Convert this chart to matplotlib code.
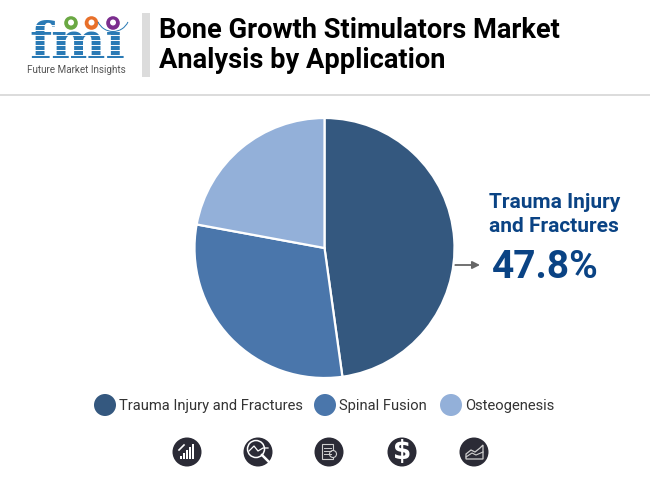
import matplotlib
matplotlib.use("Agg")
import matplotlib.pyplot as plt
from matplotlib.patches import Circle, Rectangle, Wedge, Polygon, FancyArrowPatch

plt.rcParams['font.family'] = ['Roboto', 'DejaVu Sans']

# Data
categories = ["Trauma Injury and Fractures", "Spinal Fusion", "Osteogenesis"]
values = [47.8, 30.1, 22.1]
colors = ["#34587f", "#4a76ab", "#93b0d9"]
title_lines = ["Bone Growth Stimulators Market", "Analysis by Application"]
callout_lines = ["Trauma Injury", "and Fractures"]
callout_value = "47.8%"

W, H = 650, 480
DARK = "#2b2b36"
NAVY = "#0a4384"
LOGO_BLUE = "#2a7ab5"

fig = plt.figure(figsize=(W / 100, H / 100), dpi=100)

# Overlay in pixel coordinates for everything around the pie
bg = fig.add_axes([0, 0, 1, 1])
bg.set_xlim(0, W)
bg.set_ylim(H, 0)
bg.axis("off")

# Pie
cx, cy, r = 324.5, 248, 130
pie_ax = fig.add_axes([(cx - r - 2) / W, (H - cy - r - 2) / H, (2 * r + 4) / W, (2 * r + 4) / H])
pie_ax.pie(values, colors=colors, startangle=90, counterclock=False,
           wedgeprops={"edgecolor": "white", "linewidth": 1.6})
pie_ax.set_xlim(-(r + 2) / r, (r + 2) / r)
pie_ax.set_ylim(-(r + 2) / r, (r + 2) / r)

# Header
bg.add_patch(Rectangle((142, 13), 8, 64, color="#dcdcdc", lw=0))
bg.add_patch(Rectangle((0, 94), W, 2, color="#dcdcdc", lw=0))
bg.text(159, 31, title_lines[0], fontsize=19.6, fontweight="bold", color="black", va="center")
bg.text(159, 61, title_lines[1], fontsize=19.6, fontweight="bold", color="black", va="center")

# Logo: letters with white stripes over them
bg.text(77, 58, "fmi", fontsize=37, fontweight="bold", family="DejaVu Serif",
        color=LOGO_BLUE, ha="center", va="baseline")
bg.add_patch(Rectangle((100, 14), 32, 15, color="white", lw=0, zorder=3))
for y in range(25, 58, 5):
    bg.plot([20, 135], [y, y], color="white", lw=0.7, zorder=3)
bg.text(76.5, 70, "Future Market Insights", fontsize=7.1, color="#555555", ha="center", va="center")
for x, c in [(71, "#6aa843"), (91.5, "#e8702a"), (113, "#7b2d8e")]:
    bg.add_patch(Circle((x, 23), 6.8, color=c, lw=0, zorder=4))
    bg.add_patch(Circle((x, 22.5), 3, color="white", lw=0, zorder=5))
bg.add_patch(Wedge((113, 15), 17, 25, 155, width=1, color=LOGO_BLUE, lw=0, zorder=4))

# Callout
bg.text(489, 202, callout_lines[0], fontsize=15.05, fontweight="bold", color=NAVY, va="center")
bg.text(489, 227, callout_lines[1], fontsize=15.05, fontweight="bold", color=NAVY, va="center")
bg.text(492, 267, callout_value, fontsize=28, fontweight="bold", color=NAVY, va="center")
bg.add_patch(FancyArrowPatch((455, 265), (480, 265), arrowstyle="-|>", mutation_scale=11,
                             color="#666666", lw=1.3, shrinkA=0, shrinkB=0))

# Legend
legend_x = [105, 325, 451]
for x, name, c in zip(legend_x, categories, colors):
    bg.add_patch(Circle((x, 405), 11, color=c, lw=0))
    bg.text(x + 14, 406, name, fontsize=10.6, color="#333333", va="center")

# Footer icons
icon_x = [187, 258, 329, 402, 474]
for x in icon_x:
    bg.add_patch(Circle((x, 452), 14.5, color=DARK, lw=0))

# bars with arrow
for i, h in enumerate([3, 6, 9, 12, 15]):
    bg.add_patch(Rectangle((180 + i * 3, 459 - h), 1.8, h, color="white", lw=0))
bg.plot([179, 184], [450, 445], color="white", lw=1.2)
# magnifier over a line
bg.add_patch(Circle((256, 449), 8.5, fill=False, ec="white", lw=1.1))
bg.plot([249, 254, 258, 263, 268], [451, 446, 451, 448, 448], color="white", lw=0.9)
bg.plot([262, 271], [455, 464], color="white", lw=1.8)
# document with magnifier
bg.add_patch(Rectangle((322, 444), 11, 15, fill=False, ec="#cfcfcf", lw=0.8))
for y in [448, 451, 454]:
    bg.plot([324, 331], [y, y], color="#cfcfcf", lw=0.7)
bg.add_patch(Circle((333, 454), 3.5, color=DARK, ec="#cfcfcf", lw=0.8))
# dollar
bg.text(402, 452, "$", fontsize=19, fontweight="bold", family="DejaVu Sans", color="white",
        ha="center", va="center")
# area chart
area_x = [466, 471, 475, 480, 483, 483, 466]
area_y = [454, 450, 452, 448, 445, 459, 459]
bg.add_patch(Polygon(list(zip(area_x, area_y)), closed=True, fill=False, ec="#cfcfcf", lw=0.9))
bg.plot([466, 472, 476, 483], [457, 453, 455, 452], color="#cfcfcf", lw=0.8)

fig.savefig("out.png", dpi=100, facecolor="white")
